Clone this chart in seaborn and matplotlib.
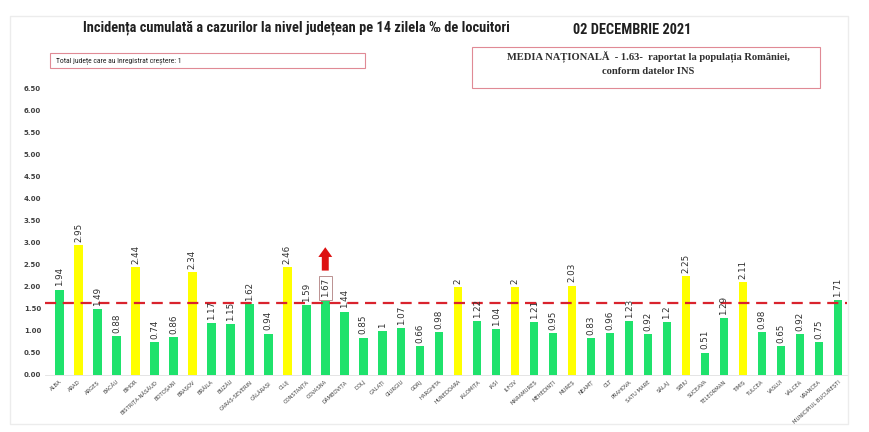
import numpy as np
import pandas as pd
import matplotlib
matplotlib.use("Agg")
import matplotlib.pyplot as plt
import seaborn as sns
from matplotlib.patches import Rectangle
from matplotlib import font_manager

judete = ["ALBA", "ARAD", "ARGEȘ", "BACĂU", "BIHOR", "BISTRIȚA-NĂSĂUD", "BOTOȘANI",
          "BRAȘOV", "BRĂILA", "BUZĂU", "CARAȘ-SEVERIN", "CĂLĂRAȘI", "CLUJ", "CONSTANȚA",
          "COVASNA", "DÂMBOVIȚA", "DOLJ", "GALAȚI", "GIURGIU", "GORJ", "HARGHITA",
          "HUNEDOARA", "IALOMIȚA", "IAȘI", "ILFOV", "MARAMUREȘ", "MEHEDINȚI", "MUREȘ",
          "NEAMȚ", "OLT", "PRAHOVA", "SATU MARE", "SĂLAJ", "SIBIU", "SUCEAVA",
          "TELEORMAN", "TIMIȘ", "TULCEA", "VASLUI", "VÂLCEA", "VRANCEA",
          "MUNICIPIUL BUCUREȘTI"]
incidenta = [1.94, 2.95, 1.49, 0.88, 2.44, 0.74, 0.86,
             2.34, 1.17, 1.15, 1.62, 0.94, 2.46, 1.59,
             1.67, 1.44, 0.85, 1, 1.07, 0.66, 0.98,
             2, 1.22, 1.04, 2, 1.21, 0.95, 2.03,
             0.83, 0.96, 1.23, 0.92, 1.2, 2.25, 0.51,
             1.29, 2.11, 0.98, 0.65, 0.92, 0.75,
             1.71]
etichete = ["1.94", "2.95", "1.49", "0.88", "2.44", "0.74", "0.86",
            "2.34", "1.17", "1.15", "1.62", "0.94", "2.46", "1.59",
            "1.67", "1.44", "0.85", "1", "1.07", "0.66", "0.98",
            "2", "1.22", "1.04", "2", "1.21", "0.95", "2.03",
            "0.83", "0.96", "1.23", "0.92", "1.2", "2.25", "0.51",
            "1.29", "2.11", "0.98", "0.65", "0.92", "0.75",
            "1.71"]
media_nationala = 1.63
judet_crestere = "COVASNA"
y_ticks = [0, 0.5, 1, 1.5, 2, 2.5, 3, 3.5, 4, 4.5, 5, 5.5, 6, 6.5]

VERDE = "#1fe26c"
GALBEN = "#ffff00"
culori = [GALBEN if v >= 2 else VERDE for v in incidenta]

# condensed sans for the Calibri-like headings, if there is one
instalate = {f.name for f in font_manager.fontManager.ttflist}
ingust = [n for n in ["Liberation Sans Narrow", "DejaVu Sans Condensed", "Roboto Condensed",
                      "Open Sans Condensed"] if n in instalate]
FAM_TITLU = ingust[:1] + ["Roboto", "DejaVu Sans"]

df = pd.DataFrame({"judet": judete, "valoare": incidenta})

fig = plt.figure(figsize=(8.7, 4.32), dpi=100)
fig.patches.append(Rectangle((0.012, 0.018), 0.963, 0.945, transform=fig.transFigure,
                             facecolor="none", edgecolor="#ececec", linewidth=1))
ax = fig.add_axes([0.052, 0.132, 0.922, 0.675])
ax.set_facecolor("none")

sns.barplot(data=df, x="judet", y="valoare", hue="judet", palette=culori,
            width=0.45, legend=False, ax=ax, saturation=1)

ax.set_ylim(0, 6.62)
ax.set_xlim(-0.75, len(judete) - 0.5)
ax.set_yticks(y_ticks)
ax.set_yticklabels([f"{t:.2f}" for t in y_ticks], fontsize=5, color="#404040",
                   fontweight="bold")
ax.set_xticks(range(len(judete)))
ax.set_xticklabels(judete, rotation=42, ha="right", rotation_mode="anchor",
                   fontsize=3.8, color="#404040")
ax.tick_params(axis="both", length=0, pad=3)
ax.set_xlabel("")
ax.set_ylabel("")
for s in ["top", "right", "left"]:
    ax.spines[s].set_visible(False)
ax.spines["bottom"].set_color("#e0e0e0")
ax.spines["bottom"].set_linewidth(0.6)

ax.axhline(media_nationala, color="#d9232d", linestyle=(0, (5, 3)), linewidth=1.6,
           zorder=3)

for i, (v, t) in enumerate(zip(incidenta, etichete)):
    if judete[i] == judet_crestere:
        ax.text(i, v + 0.09, t, rotation=90, ha="center", va="bottom", fontsize=6.3,
                color="#303030", zorder=5,
                bbox=dict(boxstyle="square,pad=0.25", facecolor="white",
                          edgecolor="#b08080", linewidth=0.6))
        ax.annotate("", xy=(i, 2.9), xytext=(i, 2.37),
                    arrowprops=dict(arrowstyle="simple,head_width=1.0,head_length=0.7,tail_width=0.5",
                                    color="#dd1111", lw=0, mutation_scale=10,
                                    shrinkA=0, shrinkB=0))
    else:
        ax.text(i, v + 0.07, t, rotation=90, ha="center", va="bottom", fontsize=6.3,
                color="#303030", zorder=5)

fig.text(0.341, 0.935, "Incidența cumulată a cazurilor la nivel județean pe 14 zilela ‰ de locuitori",
         ha="center", va="center", fontsize=10.4 if ingust else 7.4, fontweight="bold",
         family=FAM_TITLU, color="#202020")
fig.text(0.727, 0.93, "02 DECEMBRIE 2021", ha="center", va="center",
         fontsize=10.4 if ingust else 7.6, fontweight="bold", family=FAM_TITLU,
         color="#202020")

fig.patches.append(Rectangle((0.058, 0.842), 0.362, 0.036, transform=fig.transFigure,
                             facecolor="white", edgecolor="#e08a95", linewidth=0.8))
fig.text(0.064, 0.860, "Total județe care au înregistrat creștere: 1", ha="left",
         va="center", fontsize=5.5, family=FAM_TITLU, color="#202020")

fig.patches.append(Rectangle((0.543, 0.797), 0.400, 0.094, transform=fig.transFigure,
                             facecolor="white", edgecolor="#e08a95", linewidth=0.8))
fig.text(0.745, 0.870, "MEDIA NAȚIONALĂ  - 1.63-  raportat la populația României,",
         ha="center", va="center", fontsize=7.6, fontweight="bold",
         family=["Liberation Serif", "DejaVu Serif"], color="#303030")
fig.text(0.745, 0.835, "conform datelor INS", ha="center", va="center", fontsize=7.6,
         fontweight="bold", family=["Liberation Serif", "DejaVu Serif"], color="#303030")

fig.savefig("out.png", dpi=100)
